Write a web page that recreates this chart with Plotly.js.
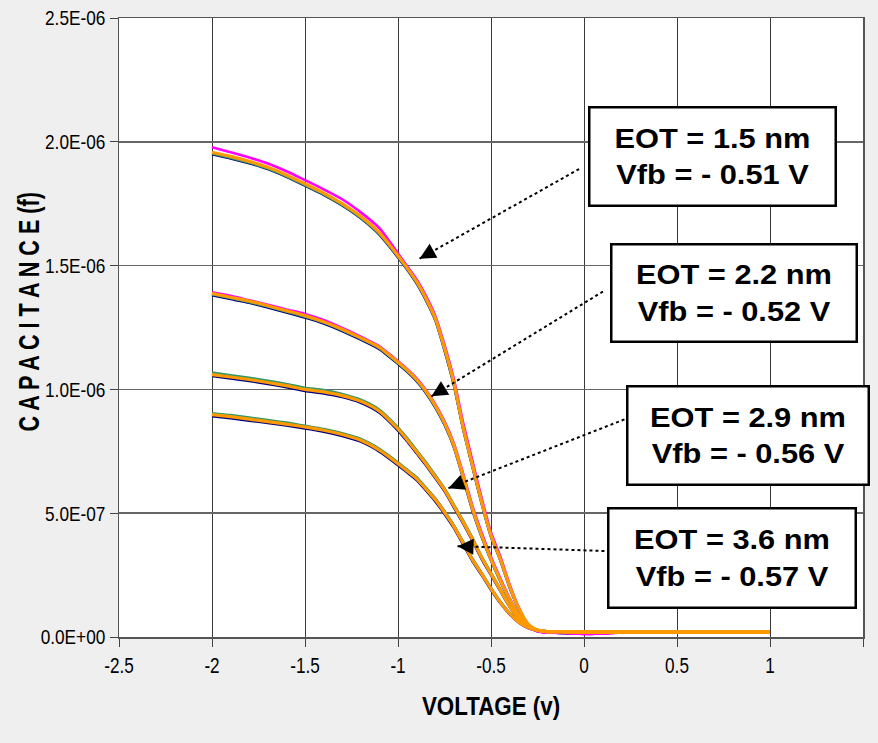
<!DOCTYPE html>
<html>
<head>
<meta charset="utf-8">
<script src="https://cdn.plot.ly/plotly-3.0.1.min.js"></script>
<style>
html,body{margin:0;padding:0;background:#efefef;}
#chart{width:878px;height:743px;}
</style>
</head>
<body>
<div id="chart"></div>
<script>
// Voltage (V)
const voltage = [-2.0,-1.9,-1.8,-1.7,-1.6,-1.5,-1.4,-1.3,-1.2,-1.1,-1.0,-0.95,-0.9,-0.85,-0.8,-0.75,-0.7,-0.65,-0.6,-0.55,-0.5,-0.45,-0.4,-0.35,-0.3,-0.25,-0.2,-0.1,0.0,0.2,0.4,0.6,0.8,1.0];

// Capacitance in units of 1E-06 F
// EOT = 1.5 nm
const eot15Orange  = [1.958,1.941,1.921,1.897,1.866,1.830,1.793,1.750,1.698,1.633,1.540,1.490,1.436,1.368,1.288,1.168,1.028,0.848,0.695,0.545,0.410,0.315,0.205,0.115,0.052,0.027,0.022,0.021,0.020,0.020,0.020,0.020,0.020,0.020];
const eot15Magenta = [1.978,1.958,1.937,1.912,1.881,1.845,1.808,1.768,1.715,1.651,1.549,1.496,1.444,1.378,1.298,1.180,1.043,0.866,0.712,0.560,0.422,0.325,0.212,0.118,0.050,0.022,0.018,0.017,0.012,0.018,0.019,0.019,0.019,0.019];
const eot15Navy    = [1.950,1.933,1.913,1.890,1.859,1.823,1.786,1.743,1.691,1.625,1.533,1.483,1.428,1.360,1.280,1.158,1.018,0.840,0.688,0.538,0.405,0.310,0.200,0.112,0.050,0.025,0.019,0.017,0.014,0.019,0.020,0.020,0.020,0.020];
const eot15Green   = [1.953,1.936,1.916,1.892,1.861,1.825,1.788,1.745,1.693,1.628,1.536,1.486,1.431,1.364,1.283,1.163,1.023,0.843,0.690,0.540,0.407,0.312,0.202,0.113,0.051,0.026,0.022,0.021,0.021,0.021,0.021,0.021,0.021,0.021];
// EOT = 2.2 nm
const eot22Orange  = [1.388,1.372,1.357,1.338,1.318,1.298,1.273,1.243,1.208,1.170,1.110,1.078,1.040,0.993,0.935,0.865,0.775,0.650,0.520,0.410,0.315,0.230,0.152,0.087,0.046,0.028,0.022,0.021,0.020,0.020,0.020,0.020,0.020,0.020];
const eot22Magenta = [1.392,1.378,1.360,1.342,1.323,1.305,1.280,1.248,1.213,1.174,1.114,1.082,1.045,0.998,0.940,0.871,0.783,0.660,0.530,0.420,0.323,0.237,0.157,0.090,0.046,0.024,0.018,0.017,0.012,0.018,0.019,0.019,0.019,0.019];
const eot22Navy    = [1.380,1.365,1.350,1.331,1.311,1.290,1.266,1.236,1.201,1.163,1.103,1.071,1.033,0.986,0.928,0.857,0.767,0.642,0.512,0.404,0.310,0.225,0.148,0.084,0.044,0.025,0.019,0.016,0.013,0.019,0.020,0.020,0.020,0.020];
const eot22Green   = [1.384,1.369,1.353,1.335,1.315,1.294,1.270,1.240,1.205,1.167,1.106,1.074,1.036,0.989,0.931,0.861,0.771,0.646,0.516,0.407,0.312,0.227,0.150,0.086,0.045,0.027,0.023,0.022,0.021,0.021,0.021,0.021,0.021,0.021];
// EOT = 2.9 nm
const eot29Orange  = [1.060,1.050,1.040,1.028,1.015,1.000,0.990,0.975,0.952,0.912,0.840,0.796,0.748,0.700,0.648,0.595,0.530,0.465,0.395,0.320,0.255,0.190,0.125,0.072,0.040,0.027,0.022,0.021,0.020,0.020,0.020,0.020,0.020,0.020];
const eot29Magenta = [1.062,1.051,1.041,1.030,1.016,1.002,0.992,0.977,0.954,0.914,0.843,0.799,0.750,0.702,0.650,0.597,0.532,0.467,0.397,0.322,0.257,0.192,0.127,0.073,0.040,0.025,0.018,0.017,0.013,0.018,0.019,0.019,0.019,0.019];
const eot29Navy    = [1.054,1.044,1.034,1.022,1.009,0.994,0.984,0.969,0.946,0.906,0.834,0.790,0.742,0.694,0.642,0.589,0.524,0.459,0.389,0.315,0.250,0.186,0.122,0.070,0.039,0.025,0.019,0.016,0.014,0.019,0.020,0.020,0.020,0.020];
const eot29Green   = [1.068,1.057,1.047,1.035,1.022,1.007,0.997,0.981,0.958,0.918,0.846,0.802,0.754,0.706,0.654,0.600,0.535,0.470,0.400,0.324,0.259,0.193,0.127,0.073,0.041,0.028,0.023,0.022,0.021,0.021,0.021,0.021,0.021,0.021];
// EOT = 3.6 nm
const eot36Orange  = [0.898,0.890,0.880,0.870,0.860,0.848,0.835,0.818,0.795,0.755,0.700,0.670,0.640,0.598,0.555,0.503,0.447,0.380,0.312,0.255,0.195,0.140,0.095,0.060,0.038,0.027,0.022,0.021,0.020,0.020,0.020,0.020,0.020,0.020];
const eot36Magenta = [0.900,0.892,0.882,0.872,0.862,0.850,0.837,0.820,0.797,0.757,0.702,0.672,0.642,0.600,0.558,0.506,0.450,0.383,0.315,0.258,0.197,0.142,0.096,0.060,0.037,0.024,0.018,0.016,0.013,0.018,0.019,0.019,0.019,0.019];
const eot36Navy    = [0.892,0.884,0.874,0.864,0.854,0.842,0.829,0.812,0.789,0.749,0.694,0.664,0.634,0.592,0.549,0.497,0.441,0.374,0.307,0.250,0.191,0.137,0.092,0.058,0.036,0.025,0.019,0.016,0.014,0.019,0.020,0.020,0.020,0.020];
const eot36Green   = [0.904,0.896,0.886,0.876,0.866,0.853,0.840,0.823,0.800,0.760,0.705,0.675,0.645,0.603,0.560,0.508,0.451,0.384,0.316,0.258,0.198,0.143,0.097,0.061,0.039,0.028,0.023,0.022,0.021,0.021,0.021,0.021,0.021,0.021];

// Tick labels
const xTickVals = [-2.5,-2,-1.5,-1,-0.5,0,0.5,1,1.5];
const xTickText = ['-2.5','-2','-1.5','-1','-0.5','0','0.5','1','1.5'];
const yTickVals = [0,0.5,1.0,1.5,2.0,2.5];
const yTickText = ['0.0E+00','5.0E-07','1.0E-06','1.5E-06','2.0E-06','2.5E-06'];

// Titles and annotation labels
const xTitle = 'VOLTAGE (v)';
const yTitleLetters = ['C','A','P','A','C','I','T','A','N','C','E'];
const yTitleUnit = '(f)';
const boxLabels = [
  ['EOT = 1.5 nm','Vfb = - 0.51 V'],
  ['EOT = 2.2 nm','Vfb = - 0.52 V'],
  ['EOT = 2.9 nm','Vfb = - 0.56 V'],
  ['EOT = 3.6 nm','Vfb = - 0.57 V']
];

const COL = {navy:'#000080', magenta:'#FF00FF', green:'#339966', orange:'#FF9900'};
const groups = [
  {navy:eot15Navy, magenta:eot15Magenta, green:eot15Green, orange:eot15Orange},
  {navy:eot22Navy, magenta:eot22Magenta, green:eot22Green, orange:eot22Orange},
  {navy:eot29Navy, magenta:eot29Magenta, green:eot29Green, orange:eot29Orange},
  {navy:eot36Navy, magenta:eot36Magenta, green:eot36Green, orange:eot36Orange}
];
const traces = [];
['navy','magenta','green','orange'].forEach(c => {
  groups.forEach(g => {
    traces.push({
      x: voltage, y: g[c], type:'scatter', mode:'lines',
      line:{color:COL[c], width: c==='orange'?3.2:2.6, shape:'spline', smoothing:0.6},
      hoverinfo:'skip', showlegend:false
    });
  });
});

const arial = '"Liberation Sans", Arial, sans-serif';

const boxes = [
  {x:0.691, y:1.942, w:244, h:96},
  {x:0.806, y:1.391, w:243, h:95},
  {x:0.882, y:0.8125, w:239, h:96},
  {x:0.796, y:0.319, w:245, h:97}
];
const arrows = [
  {x0:-0.884, y0:1.528, x1:-0.024, y1:1.891},
  {x0:-0.820, y0:0.972, x1:0.110, y1:1.399},
  {x0:-0.729, y0:0.601, x1:0.245, y1:0.887},
  {x0:-0.680, y0:0.367, x1:0.121, y1:0.347}
];
const shapes = arrows.map(a => ({
  type:'line', xref:'x', yref:'y', x0:a.x0, y0:a.y0, x1:a.x1, y1:a.y1,
  line:{color:'#000', width:2, dash:'dot'}
}));
const annotations = [];
arrows.forEach(a => {
  const dxp = (a.x1-a.x0)*186, dyp = -(a.y1-a.y0)*248;
  const L = Math.sqrt(dxp*dxp+dyp*dyp);
  annotations.push({
    x:a.x0, y:a.y0, xref:'x', yref:'y', text:'', showarrow:true,
    ax: dxp/L*17, ay: dyp/L*17, arrowhead:2, arrowsize:3.2, arrowwidth:1, arrowcolor:'#000'
  });
});
boxes.forEach((b,i) => {
  annotations.push({
    x:b.x, y:b.y, xref:'x', yref:'y', xanchor:'center', yanchor:'middle',
    text:'<b>'+boxLabels[i][0]+'<br>'+boxLabels[i][1]+'</b>',
    showarrow:false, width:b.w, height:b.h, align:'center', valign:'middle',
    bgcolor:'#ffffff', bordercolor:'#000', borderwidth:2.5, borderpad:0,
    font:{family:arial, size:28, color:'#000'}
  });
});
// y-axis title as rotated annotation
annotations.push({
  xref:'paper', yref:'paper', x:-0.122, y:0.525, xanchor:'center', yanchor:'middle',
  textangle:-90, showarrow:false,
  text:'<b>'+yTitleLetters.join(' ')+' '+yTitleUnit+'</b>',
  font:{family:arial, size:30, color:'#000'}
});

const layout = {
  width:878, height:743,
  margin:{l:119, r:15, t:18, b:106},
  paper_bgcolor:'#efefef', plot_bgcolor:'#ffffff',
  xaxis:{
    range:[-2.5,1.5], tickvals:xTickVals, ticktext:xTickText,
    showgrid:true, gridcolor:'#3a3a3a', gridwidth:1,
    showline:true, linecolor:'#555', linewidth:1.5, mirror:true,
    ticks:'outside', ticklen:8, tickcolor:'#444', tickwidth:1,
    zeroline:false, tickfont:{family:arial, size:22, color:'#000'},
    title:{text:'<b>'+xTitle+'</b>', font:{family:arial, size:26, color:'#000'}, standoff:20}
  },
  yaxis:{
    range:[0,2.5], tickvals:yTickVals, ticktext:yTickText,
    showgrid:true, gridcolor:'#666', gridwidth:1.5,
    showline:true, linecolor:'#555', linewidth:1.5, mirror:true,
    ticks:'outside', ticklen:8, tickcolor:'#444', tickwidth:1,
    zeroline:false, tickfont:{family:arial, size:21, color:'#000'}
  },
  shapes:shapes, annotations:annotations, showlegend:false
};

// horizontally condense / stretch text glyphs (keeps them as real text)
function scaleText(el, s){
  const bb = el.getBBox();
  const anchor = el.getAttribute('text-anchor') || 'start';
  let cx = bb.x + bb.width/2;
  if (anchor === 'end') cx = bb.x + bb.width;
  else if (anchor === 'start') cx = bb.x;
  const t = el.getAttribute('transform') || '';
  el.setAttribute('transform', (t+' translate('+cx+',0) scale('+s+',1) translate('+(-cx)+',0)').trim());
}
Plotly.newPlot('chart', traces, layout, {displayModeBar:false, staticPlot:true}).then(gd => {
  gd.querySelectorAll('g.xtick text').forEach(el => scaleText(el, 0.78));
  gd.querySelectorAll('g.ytick text').forEach(el => scaleText(el, 0.82));
  gd.querySelectorAll('g.g-xtitle text').forEach(el => scaleText(el, 0.86));
  gd.querySelectorAll('g.annotation text.annotation-text').forEach(el => {
    const txt = el.textContent;
    if (txt.indexOf('EOT') >= 0) scaleText(el, 1.1);
    else if (txt.indexOf('(f)') >= 0) scaleText(el, 0.72);
  });
});
</script>
</body>
</html>
